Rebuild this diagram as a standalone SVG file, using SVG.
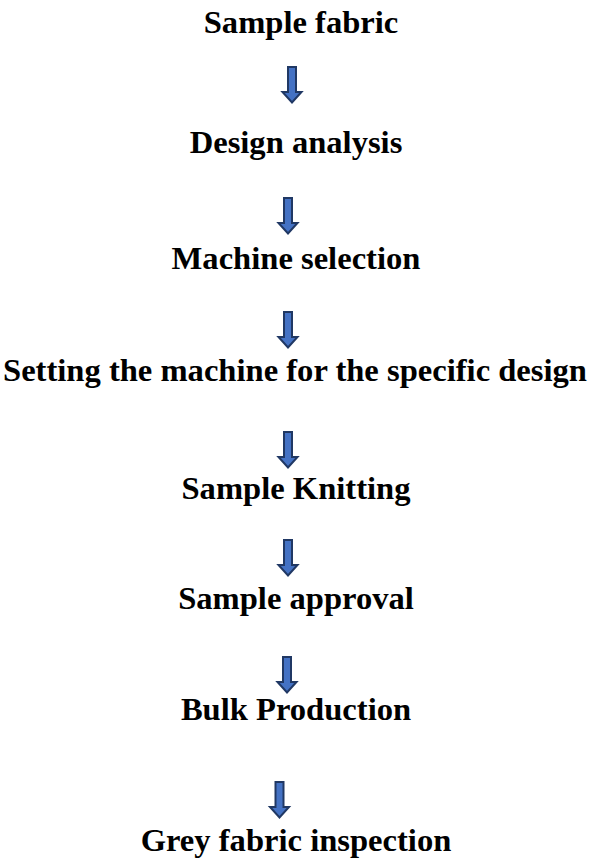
<svg xmlns="http://www.w3.org/2000/svg" xmlns:xlink="http://www.w3.org/1999/xlink" width="592" height="863" viewBox="0 0 592 863">
<style>
.t{font-family:"Liberation Serif","Times New Roman",serif;font-weight:bold;font-size:32.6px;fill:#000;text-anchor:middle}
.a{fill:#4472c4;stroke:#203864;stroke-width:2;stroke-linejoin:miter}
</style>
<defs>
<path id="arr" class="a" d="M -4 0 H 4 V 25 H 9.5 L 0 35.5 L -9.5 25 H -4 Z"/>
</defs>
<rect width="592" height="863" fill="#fff"/>
<g id="n1"><text class="t" x="301" y="33">Sample fabric</text></g>
<g id="n2"><text class="t" x="296" y="153">Design analysis</text></g>
<g id="n3"><text class="t" x="296" y="269">Machine selection</text></g>
<g id="n4"><text class="t" x="295" y="381">Setting the machine for the specific design</text></g>
<g id="n5"><text class="t" x="296" y="499">Sample Knitting</text></g>
<g id="n6"><text class="t" x="296" y="609">Sample approval</text></g>
<g id="n7"><text class="t" x="296" y="720">Bulk Production</text></g>
<g id="n8"><text class="t" x="296" y="851">Grey fabric inspection</text></g>
<g id="connectors">
<use xlink:href="#arr" x="292" y="67"/>
<use xlink:href="#arr" x="288" y="198"/>
<use xlink:href="#arr" x="288" y="312"/>
<use xlink:href="#arr" x="288" y="432"/>
<use xlink:href="#arr" x="288" y="540"/>
<use xlink:href="#arr" x="287" y="657"/>
<use xlink:href="#arr" x="279.5" y="782"/>
</g>
</svg>
